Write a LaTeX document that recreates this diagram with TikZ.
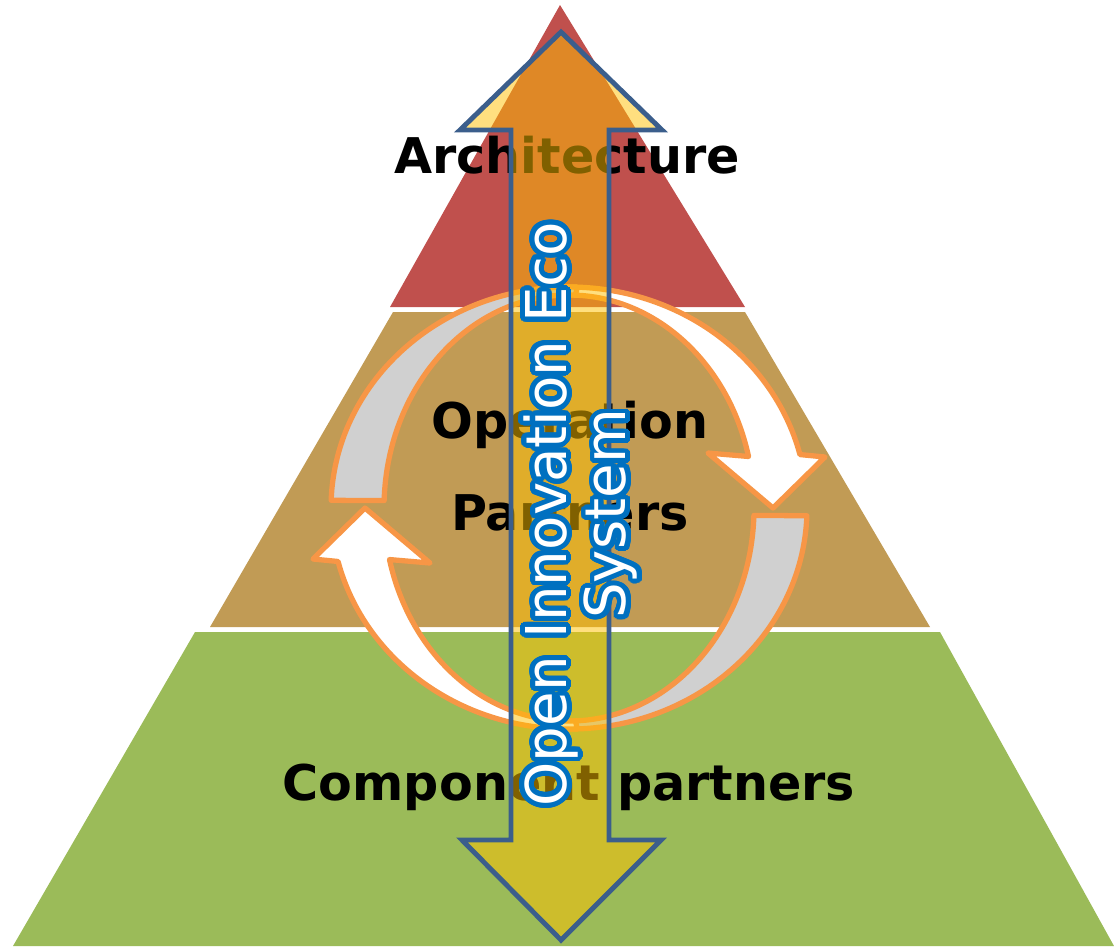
\documentclass[tikz,border=0pt]{standalone}
\usepackage{fontspec}
\setmainfont{DejaVu Sans}
\usepackage[copies]{contour}
\contourlength{1.4pt}
\contournumber{32}
\definecolor{pyrred}{HTML}{C0504D}
\definecolor{pyrtan}{HTML}{C19B55}
\definecolor{pyrgreen}{HTML}{9BBB59}
\definecolor{ringorange}{HTML}{F79646}
\definecolor{ringgray}{HTML}{D0D0D0}
\definecolor{arrowgold}{HTML}{FFC000}
\definecolor{arrowblue}{HTML}{3B5E8C}
\definecolor{ecoblue}{HTML}{0070C0}
\tikzstyle{tier}=[font=\bfseries\fontsize{14}{26}\selectfont, text=black, align=center]
\tikzstyle{ring}=[draw=ringorange, line width=1.5pt, line join=round]
\tikzstyle{bigarrow}=[draw=arrowblue, line width=1.4pt, fill=arrowgold, fill opacity=0.5]
\tikzstyle{eco}=[rotate=90, text=white, align=center, font=\fontsize{16}{17}\selectfont]

\begin{document}
\begin{tikzpicture}[x=0.1mm, y=-0.1mm]

\useasboundingbox (0,0) rectangle (1114,948);

% pyramid layers
\fill [pyrred]   (560,5) -- (745,307) -- (390,307) -- cycle;
\fill [pyrtan]   (393,312) -- (745,312) -- (930,627) -- (210,627) -- cycle;
\fill [pyrgreen] (195,632) -- (940,632) -- (1114,946) -- (13,946) -- cycle;

% cycle arrows
\begin{scope}[shift={(569,508)}, yscale=-1]
\foreach \r in {0,180} {
  \begin{scope}[rotate=\r]
  \draw [ring, fill=ringgray] (-2:238 and 221) arc [start angle=-2, end angle=-92, x radius=238, y radius=221]
    -- (-92:185 and 213) arc [start angle=-92, end angle=-2, x radius=185, y radius=213] -- cycle;
  \draw [ring, fill=white] (92:238 and 221) arc [start angle=92, end angle=14, x radius=238, y radius=221]
    -- (256,51) -- (204,0) -- (139,55)
    -- (14:185 and 213) arc [start angle=14, end angle=92, x radius=185, y radius=213] -- cycle;
  \end{scope}
}
\end{scope}

\node [tier] (arch) at (567,155) {Architecture};
\node [tier] (ops)  at (570,466) {Operation\\Partners};
\node [tier] (comp) at (569,787) {Component partners};

% double arrow
\draw [bigarrow] (561,32) -- (662,130) -- (609,130) -- (609,840) -- (661,840) -- (561,940)
  -- (462,840) -- (511,840) -- (511,130) -- (460,130) -- cycle;

\node [eco] (eco) at (583,514) {\contour{ecoblue}{Open Innovation Eco}\\\contour{ecoblue}{System}};

\end{tikzpicture}
\end{document}
